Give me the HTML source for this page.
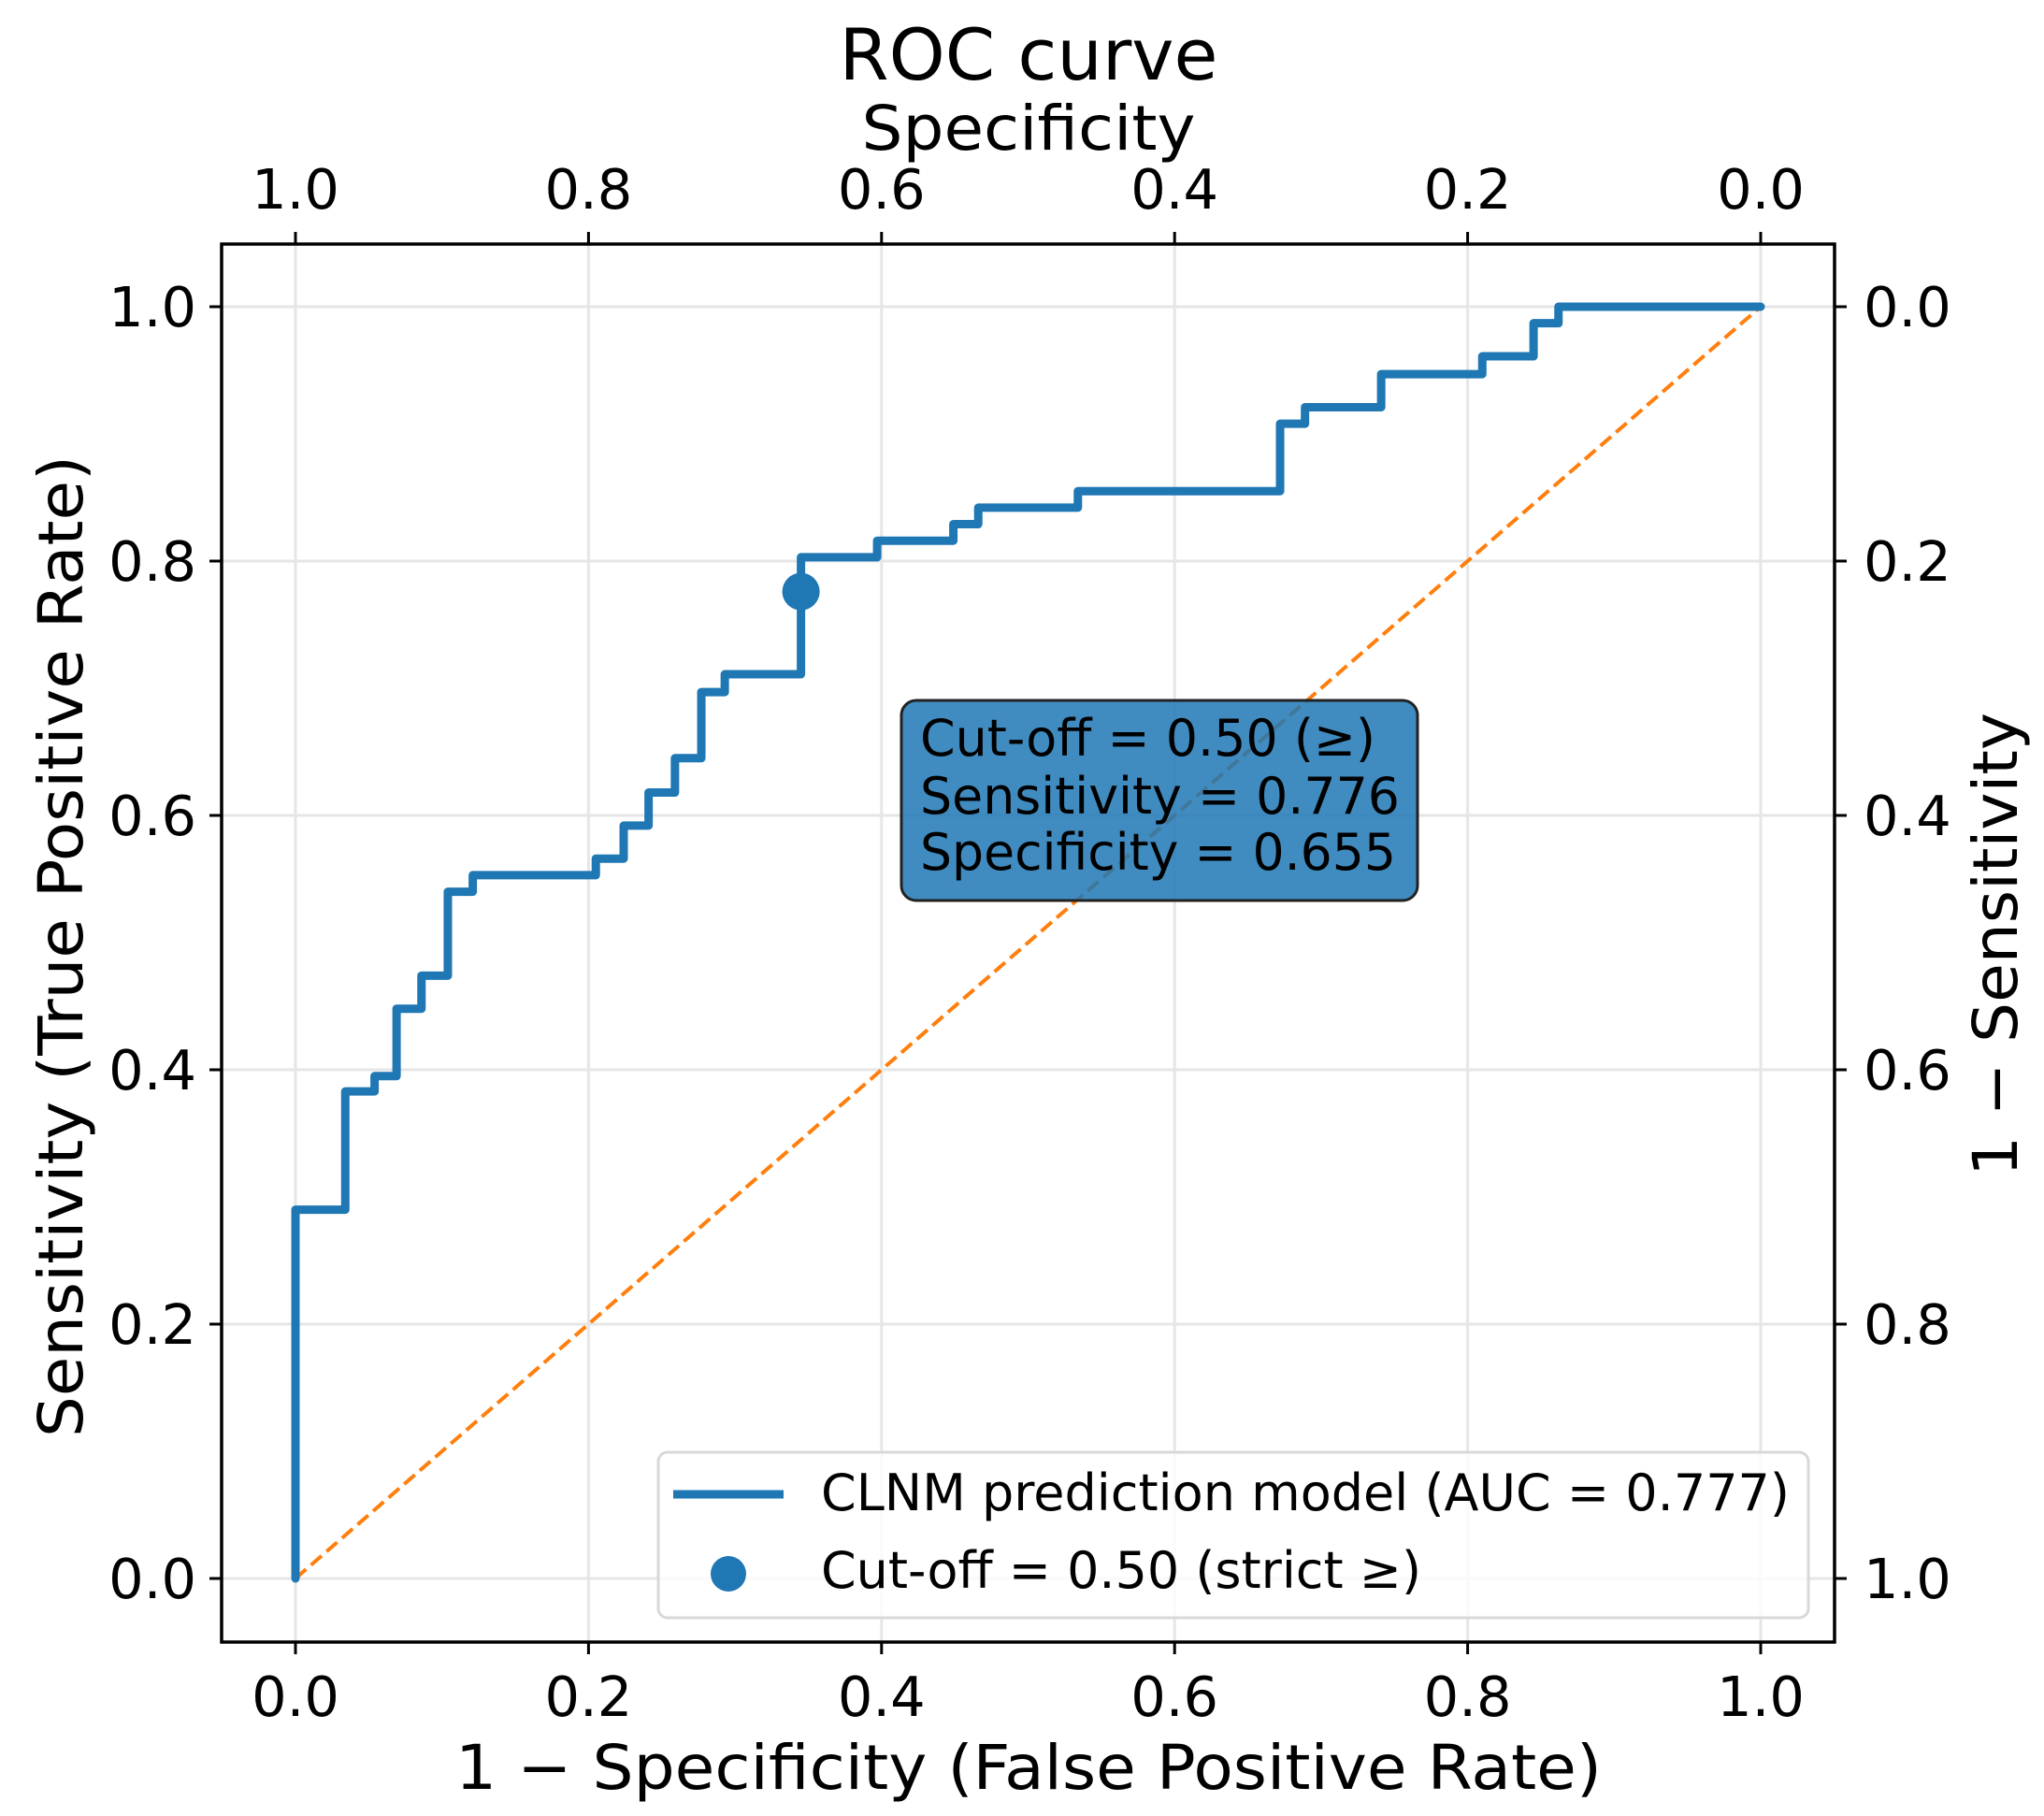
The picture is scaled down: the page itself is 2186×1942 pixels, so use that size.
<!DOCTYPE html>
<html><head><meta charset="utf-8"><style>
html,body{margin:0;padding:0;background:#fff}
svg{display:block}
text{font-family:"DejaVu Sans","Liberation Sans",sans-serif;fill:#000}
</style></head><body>
<svg id="chart" width="2186" height="1942" viewBox="0 0 2186 1942">
<g id="grid"></g>
<g id="axes"></g>
<g id="series"></g>
<text x="1100" y="85" font-size="76" text-anchor="middle" textLength="405" lengthAdjust="spacingAndGlyphs">ROC curve</text>
<text x="1100" y="160" font-size="66" text-anchor="middle" textLength="357" lengthAdjust="spacingAndGlyphs">Specificity</text>
<text x="1100" y="1913" font-size="66" text-anchor="middle" textLength="1226" lengthAdjust="spacingAndGlyphs">1 − Specificity (False Positive Rate)</text>
<text transform="translate(88,1012) rotate(-90)" font-size="66" text-anchor="middle" textLength="1050" lengthAdjust="spacingAndGlyphs">Sensitivity (True Positive Rate)</text>
<text transform="translate(2157,1010) rotate(-90)" font-size="66" text-anchor="middle" textLength="496" lengthAdjust="spacingAndGlyphs">1 − Sensitivity</text>
<g>
<rect x="964" y="749" width="552" height="214" rx="16" fill="rgba(31,119,180,0.85)" stroke="#222" stroke-width="3"/>
<text x="984" y="808" font-size="54" textLength="487" lengthAdjust="spacingAndGlyphs">Cut-off = 0.50 (≥)</text>
<text x="984" y="870" font-size="54" textLength="513" lengthAdjust="spacingAndGlyphs">Sensitivity = 0.776</text>
<text x="984" y="930" font-size="54" textLength="509" lengthAdjust="spacingAndGlyphs">Specificity = 0.655</text>
</g>
<g>
<rect x="704" y="1553" width="1230" height="177" rx="10" fill="rgba(255,255,255,0.8)" stroke="#d8d8d8" stroke-width="3"/>
<line x1="720" y1="1598" x2="838" y2="1598" stroke="#1f77b4" stroke-width="9"/>
<text x="878" y="1615" font-size="54" textLength="1036" lengthAdjust="spacingAndGlyphs">CLNM prediction model (AUC = 0.777)</text>
<circle cx="779" cy="1683" r="19" fill="#1f77b4"/>
<text x="878" y="1698" font-size="54" textLength="642" lengthAdjust="spacingAndGlyphs">Cut-off = 0.50 (strict ≥)</text>
</g>
</svg>
<script>
const fprValues = [0,0,0.034,0.034,0.054,0.054,0.069,0.069,0.086,0.086,0.104,0.104,0.121,0.121,0.205,0.205,0.224,0.224,0.241,0.241,0.259,0.259,0.277,0.277,0.293,0.293,0.345,0.345,0.397,0.397,0.449,0.449,0.466,0.466,0.534,0.534,0.672,0.672,0.689,0.689,0.741,0.741,0.81,0.81,0.845,0.845,0.862,0.862,1];
const tprValues = [0,0.29,0.29,0.383,0.383,0.395,0.395,0.448,0.448,0.474,0.474,0.54,0.54,0.553,0.553,0.566,0.566,0.592,0.592,0.618,0.618,0.645,0.645,0.697,0.697,0.711,0.711,0.803,0.803,0.816,0.816,0.829,0.829,0.842,0.842,0.855,0.855,0.908,0.908,0.921,0.921,0.947,0.947,0.961,0.961,0.987,0.987,1,1];
const cutoffPoint = [0.345, 0.776];
const tickValues = [0,0.2,0.4,0.6,0.8,1.0];
const tickLabels = ["0.0","0.2","0.4","0.6","0.8","1.0"];
const invTickLabels = ["1.0","0.8","0.6","0.4","0.2","0.0"];

const NS='http://www.w3.org/2000/svg';
const X0=316,X1=1883,Y0=1688,Y1=328;
const FL=237,FR=1962,FT=261,FB=1756;
function sx(v){return X0+(X1-X0)*v;}
function sy(v){return Y0-(Y0-Y1)*v;}
function mk(tag,attrs,parent){const e=document.createElementNS(NS,tag);for(const k in attrs)e.setAttribute(k,attrs[k]);parent.appendChild(e);return e;}
const grid=document.getElementById('grid'),axes=document.getElementById('axes'),series=document.getElementById('series');

tickValues.forEach((v,i)=>{
  const gx=mk('line',{x1:sx(v),x2:sx(v),y1:FT,y2:FB,stroke:'#e6e6e6','stroke-width':3},grid);
  
  
  const gy=mk('line',{x1:FL,x2:FR,y1:sy(v),y2:sy(v),stroke:'#e6e6e6','stroke-width':3},grid);
  
  
  mk('line',{x1:sx(v),x2:sx(v),y1:FB,y2:FB+13,stroke:'#000','stroke-width':3},axes);
  mk('line',{x1:sx(v),x2:sx(v),y1:FT,y2:FT-13,stroke:'#000','stroke-width':3},axes);
  mk('line',{x1:FL,x2:FL-13,y1:sy(v),y2:sy(v),stroke:'#000','stroke-width':3},axes);
  mk('line',{x1:FR,x2:FR+13,y1:sy(v),y2:sy(v),stroke:'#000','stroke-width':3},axes);
  const bl=mk('text',{x:sx(v),y:1835,'font-size':59,'text-anchor':'middle'},axes);bl.textContent=tickLabels[i];
  
  
  const tl=mk('text',{x:sx(v),y:223,'font-size':59,'text-anchor':'middle'},axes);tl.textContent=invTickLabels[i];
  
  
  const ll=mk('text',{x:210,y:sy(v)+21,'font-size':59,'text-anchor':'end'},axes);ll.textContent=tickLabels[i];
  
  
  const rl=mk('text',{x:1993,y:sy(v)+21,'font-size':59,'text-anchor':'start'},axes);rl.textContent=invTickLabels[i];
  
  
});
const frame=mk('rect',{x:FL,y:FT,width:FR-FL,height:FB-FT,fill:'none',stroke:'#000','stroke-width':3.5},axes);



const diag=mk('line',{x1:sx(0),y1:sy(0),x2:sx(1),y2:sy(1),stroke:'#ff7f0e','stroke-width':4,'stroke-dasharray':'15,7'},series);



const pts=fprValues.map((f,i)=>sx(f)+','+sy(tprValues[i])).join(' ');
const roc=mk('polyline',{points:pts,fill:'none',stroke:'#1f77b4','stroke-width':9,'stroke-linejoin':'round','stroke-linecap':'round'},series);



const dot=mk('circle',{cx:sx(cutoffPoint[0]),cy:sy(cutoffPoint[1]),r:20,fill:'#1f77b4'},series);


</script>
</body></html>
